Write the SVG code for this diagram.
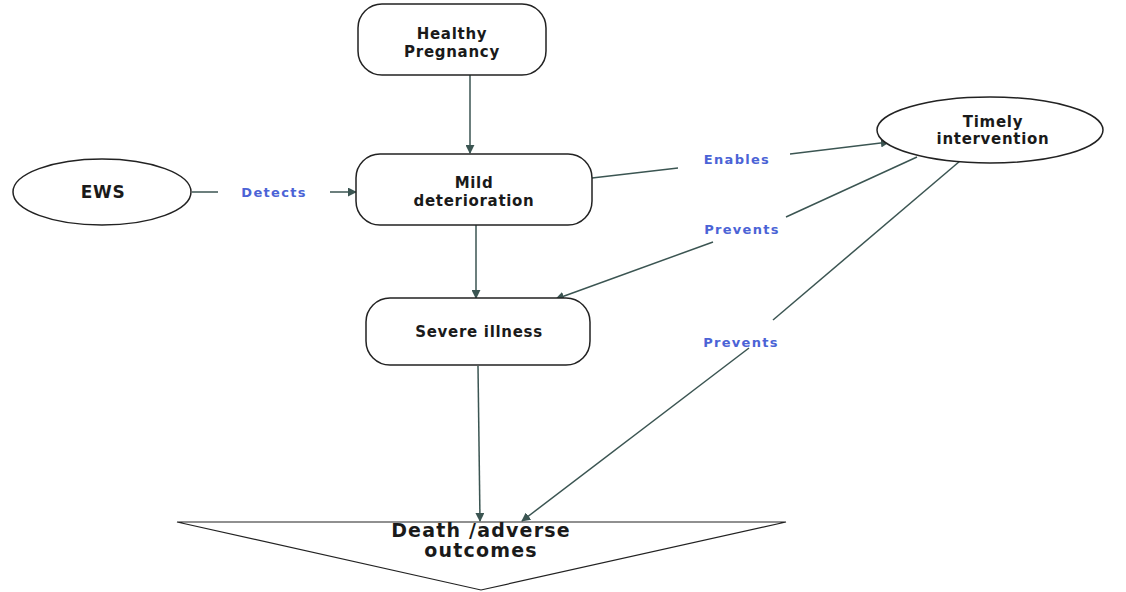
<svg xmlns="http://www.w3.org/2000/svg" width="1126" height="592" viewBox="0 0 1126 592">
<defs>
<marker id="ah" viewBox="0 0 10 10" refX="9" refY="5" markerWidth="9" markerHeight="9" markerUnits="userSpaceOnUse" orient="auto">
<path d="M0,0 L10,5 L0,10 z" fill="#3b5552"/>
</marker>
<style>
.node{fill:#fff;stroke:#222;stroke-width:1.5}
.t{font-family:"DejaVu Sans","Liberation Sans",sans-serif;font-weight:bold;font-size:15px;letter-spacing:0.7px;fill:#1a1a1a;text-anchor:middle}
.lbl{font-family:"DejaVu Sans","Liberation Sans",sans-serif;font-weight:bold;font-size:13px;letter-spacing:1.3px;fill:#4b63d6;text-anchor:middle}
.c{fill:none;stroke:#3b5552;stroke-width:1.5}
</style>
</defs>
<rect width="1126" height="592" fill="#fff"/>
<g id="connectors">
<line class="c" x1="470" y1="75" x2="470" y2="153" marker-end="url(#ah)"/>
<line class="c" x1="192" y1="192" x2="218" y2="192"/>
<line class="c" x1="330" y1="192" x2="356" y2="192" marker-end="url(#ah)"/>
<line class="c" x1="592" y1="178" x2="678" y2="168"/>
<line class="c" x1="790" y1="154" x2="889" y2="142" marker-end="url(#ah)"/>
<line class="c" x1="476" y1="225" x2="476" y2="298" marker-end="url(#ah)"/>
<line class="c" x1="917" y1="157" x2="786" y2="217"/>
<line class="c" x1="713" y1="242" x2="556" y2="299" marker-end="url(#ah)"/>
<line class="c" x1="960" y1="161" x2="773" y2="320"/>
<line class="c" x1="749" y1="348" x2="522" y2="521" marker-end="url(#ah)"/>
<line class="c" x1="478" y1="366" x2="480" y2="521" marker-end="url(#ah)"/>
<text class="lbl" x="274" y="197">Detects</text>
<text class="lbl" x="737" y="164">Enables</text>
<text class="lbl" x="742" y="234">Prevents</text>
<text class="lbl" x="741" y="347">Prevents</text>
</g>
<g id="healthy">
<rect class="node" x="358" y="4" width="188" height="71" rx="24"/>
<text class="t" x="452" y="39">Healthy</text>
<text class="t" x="452" y="57">Pregnancy</text>
</g>
<g id="ews">
<ellipse class="node" cx="102" cy="192" rx="89" ry="33"/>
<text class="t" x="103" y="198" style="font-size:17px">EWS</text>
</g>
<g id="mild">
<rect class="node" x="356" y="154" width="236" height="71" rx="24"/>
<text class="t" x="474" y="188">Mild</text>
<text class="t" x="474" y="206">deterioration</text>
</g>
<g id="timely">
<ellipse class="node" cx="990" cy="130" rx="113" ry="33"/>
<text class="t" x="993" y="127">Timely</text>
<text class="t" x="993" y="144">intervention</text>
</g>
<g id="severe">
<rect class="node" x="366" y="298" width="224" height="67" rx="24"/>
<text class="t" x="479" y="337">Severe illness</text>
</g>
<g id="death">
<polygon class="node" points="177,522 786,522 481,590" style="stroke-width:1.2"/>
<text class="t" x="481" y="537" style="font-size:19px;letter-spacing:1.2px">Death /adverse</text>
<text class="t" x="481" y="557" style="font-size:19px;letter-spacing:1.2px">outcomes</text>
</g>
</svg>
